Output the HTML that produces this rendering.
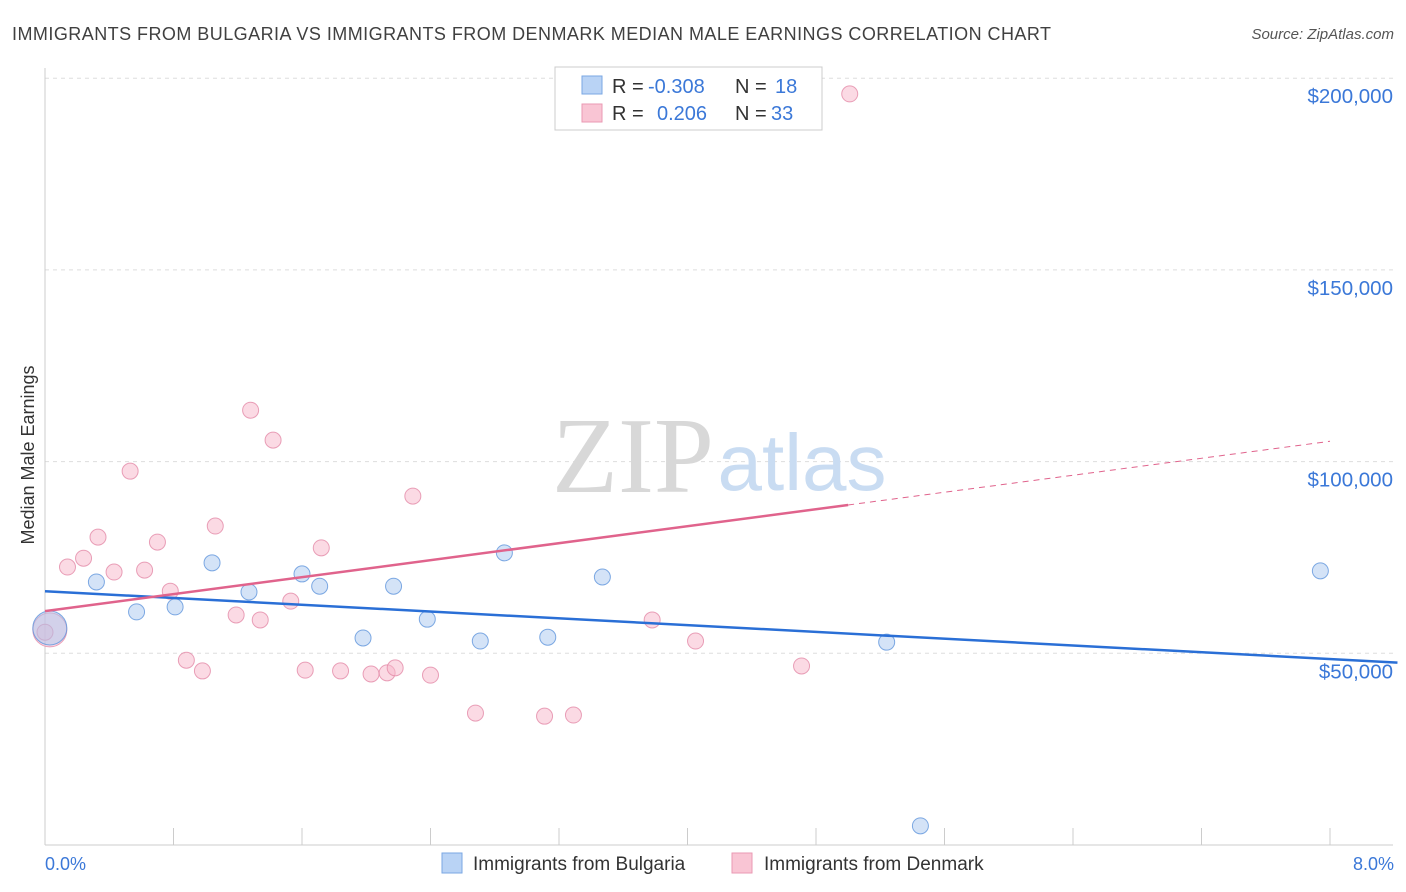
<!DOCTYPE html>
<html><head><meta charset="utf-8"><style>
body{margin:0;background:#fff;font-family:"Liberation Sans",sans-serif;}
svg{display:block}
</style></head><body>
<svg id="chart" width="1406" height="892">
<text x="12" y="40" font-size="18" fill="#404040" textLength="1039">IMMIGRANTS FROM BULGARIA VS IMMIGRANTS FROM DENMARK MEDIAN MALE EARNINGS CORRELATION CHART</text>
<text x="1394" y="39" font-size="15" fill="#555" font-style="italic" text-anchor="end">Source: ZipAtlas.com</text>
<g id="grid"></g>
<text x="633" y="492" font-size="108" fill="#d8d8d8" font-family="Liberation Serif,serif" text-anchor="middle">ZIP</text>
<text x="802" y="490" font-size="80" fill="#c9dcf2" text-anchor="middle">atlas</text>
<g id="marks"></g>
<text transform="translate(34,455) rotate(-90)" font-size="18" fill="#333" text-anchor="middle">Median Male Earnings</text>
<text x="45" y="870" font-size="18" fill="#3b78d8">0.0%</text>
<text x="1394" y="870" font-size="18" fill="#3b78d8" text-anchor="end">8.0%</text>
<g>
<rect x="555" y="67" width="267" height="63" fill="#fff" stroke="#ccc"/>
<rect x="582" y="76" width="20" height="18" fill="#b9d3f5" stroke="#7aa7e3"/>
<rect x="582" y="104" width="20" height="18" fill="#f9c5d4" stroke="#ea99b3"/>
<text x="612" y="93" font-size="20" fill="#333">R = <tspan fill="#3b78d8" x="648">-0.308</tspan><tspan x="735">N = </tspan><tspan fill="#3b78d8" x="775">18</tspan></text>
<text x="612" y="120" font-size="20" fill="#333">R = <tspan fill="#3b78d8" x="657">0.206</tspan><tspan x="735">N = </tspan><tspan fill="#3b78d8" x="771">33</tspan></text>
</g>
<g>
<rect x="442" y="853" width="20" height="20" fill="#b9d3f5" stroke="#7aa7e3"/>
<text x="473" y="870" font-size="19" fill="#333">Immigrants from Bulgaria</text>
<rect x="732" y="853" width="20" height="20" fill="#f9c5d4" stroke="#ea99b3"/>
<text x="764" y="870" font-size="19" fill="#333">Immigrants from Denmark</text>
</g>
</svg>
<script>
const yTicks=[50000,100000,150000,200000];
const yTickLabels=["$50,000","$100,000","$150,000","$200,000"];
const blueX=[0.03,0.32,0.57,0.81,1.04,1.27,1.60,1.71,1.98,2.17,2.38,2.71,2.86,3.13,3.47,5.24,5.45,7.94];
const blueY=[56.6,68.6,60.8,62.1,73.6,66.0,70.7,67.5,54.0,67.5,58.9,53.2,76.2,54.2,69.9,52.9,5.0,71.5];
const pinkX=[0.03,0.14,0.24,0.33,0.43,0.53,0.62,0.70,0.78,0.88,0.98,1.06,1.19,1.28,1.34,1.42,1.53,1.62,1.72,1.84,2.03,2.13,2.18,2.29,2.40,2.68,3.11,3.29,3.78,4.05,4.71,5.01,0.0];
const pinkY=[56.1,72.5,74.8,80.3,71.2,97.5,71.7,79.0,66.2,48.2,45.4,83.2,60.0,113.4,58.7,105.6,63.6,45.6,77.5,45.4,44.6,44.9,46.2,91.0,44.3,34.4,33.6,33.9,58.7,53.2,46.7,195.9,55.5];
const blueTrend=[66.2,48.5];
const pinkTrend=[61.0,105.3];
const NS="http://www.w3.org/2000/svg";
const xs=v=>45+v/8*1285;
const ys=v=>845-v/50000*191.7;
const yk=v=>ys(v*1000);
const grid=document.getElementById('grid'),marks=document.getElementById('marks');
function mk(tag,attrs,parent){const e=document.createElementNS(NS,tag);for(const k in attrs)e.setAttribute(k,attrs[k]);parent.appendChild(e);return e;}
yTicks.forEach((t,i)=>{
 const l=mk('line',{x1:45,x2:1393,y1:ys(t),y2:ys(t),stroke:'#ddd','stroke-dasharray':'4,4'},grid);
 
 
 const tx=mk('text',{x:1393,y:ys(t)+25,'font-size':20.5,fill:'#3b78d8','text-anchor':'end'},grid);
 tx.textContent=yTickLabels[i];
 
 
});
const ax=mk('line',{x1:45,x2:45,y1:68,y2:845,stroke:'#ccc'},grid);


const bx=mk('line',{x1:45,x2:1393,y1:845,y2:845,stroke:'#ccc'},grid);


for(let i=1;i<=10;i++){const t=mk('line',{x1:xs(i*0.8),x2:xs(i*0.8),y1:828,y2:845,stroke:'#ccc'},grid);
 
 }
function pts(X,Y,fill,stroke,name){
 X.forEach((x,i)=>{const big=(i===0);const c=mk('circle',{cx:xs(x),cy:yk(Y[i]),r:big?17:8,fill:fill,'fill-opacity':0.5,stroke:stroke,'stroke-width':1,'stroke-opacity':0.8},marks);
 
 });
}
pts(pinkX,pinkY,'#f7b6c9','#e48aa8','denmark-point');
pts(blueX,blueY,'#a9c8f0','#5f95dc','bulgaria-point');
const x1=8.42;
const bl=mk('line',{x1:xs(0),y1:yk(blueTrend[0]),x2:xs(x1),y2:yk(blueTrend[0]+(blueTrend[1]-blueTrend[0])*x1/8),stroke:'#2a6fd6','stroke-width':2.5},marks);


const ps=5.0,pe=8.0;const pv=x=>pinkTrend[0]+(pinkTrend[1]-pinkTrend[0])*x/8;
const pl=mk('line',{x1:xs(0),y1:yk(pv(0)),x2:xs(ps),y2:yk(pv(ps)),stroke:'#e0638c','stroke-width':2.5},marks);


const pd=mk('line',{x1:xs(ps),y1:yk(pv(ps)),x2:xs(pe),y2:yk(pv(pe)),stroke:'#e0638c','stroke-width':1,'stroke-dasharray':'6,5'},marks);


</script>
</body></html>
